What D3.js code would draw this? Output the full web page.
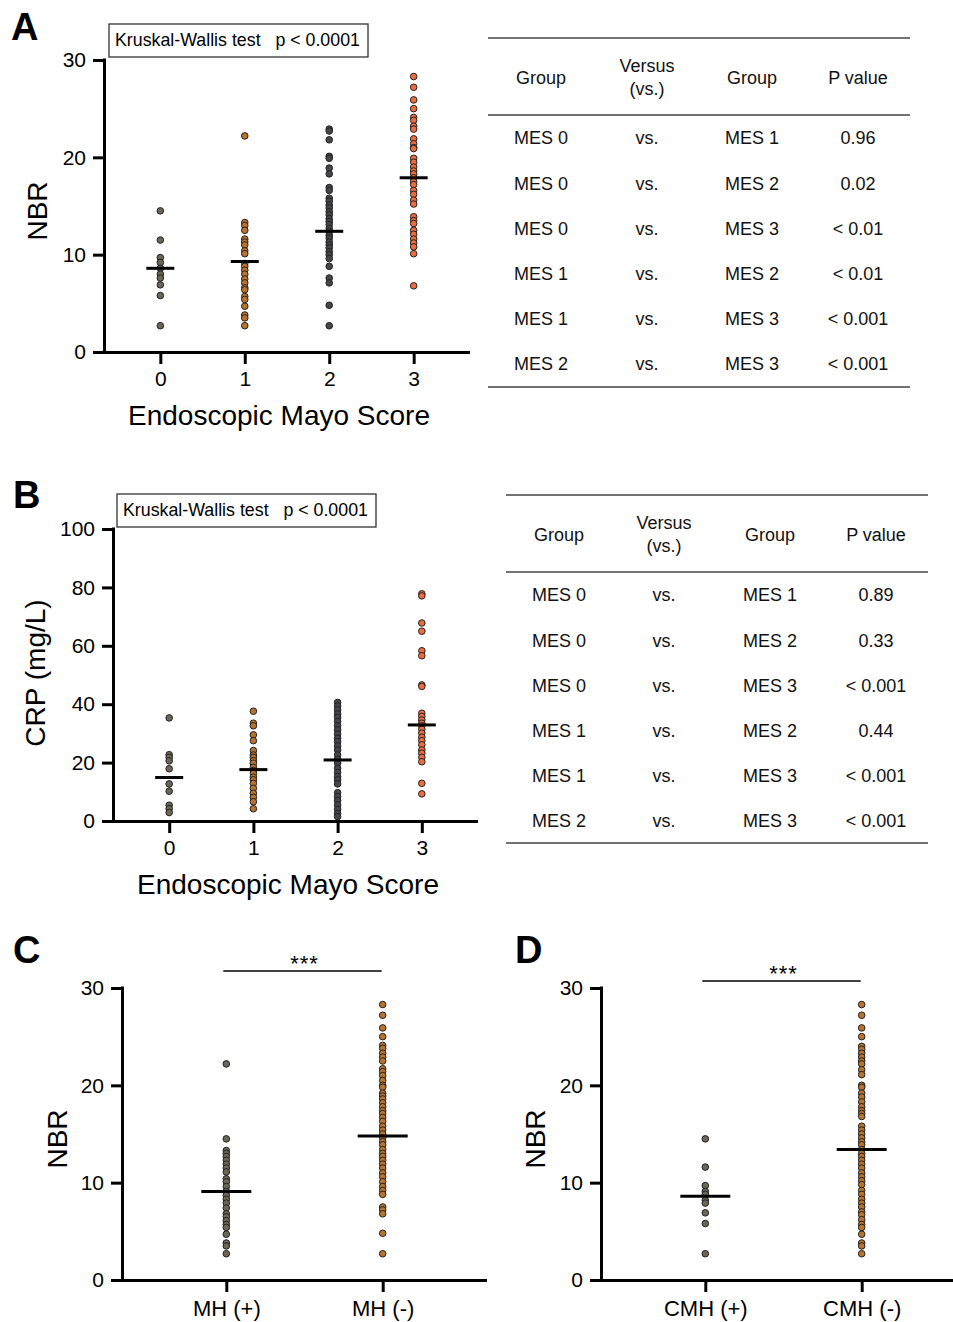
<!DOCTYPE html>
<html><head><meta charset="utf-8">
<script src="https://cdn.jsdelivr.net/npm/d3@7"></script>
<style>
body{margin:0;background:#fff;}
svg{display:block;font-family:"Liberation Sans",Arial,sans-serif;}
</style></head>
<body>
<svg id="chart" width="953" height="1322"></svg>
<script>
// ---------- DATA ----------
const mesCategories = ["0", "1", "2", "3"];
const nbrMes0 = [14.5, 11.5, 9.7, 9.2, 8.6, 8.0, 7.6, 6.9, 5.8, 2.7];
const nbrMes1 = [22.2, 13.3, 13.0, 12.5, 11.6, 11.3, 11.0, 10.4, 10.1, 9.1, 8.8, 8.4, 8.0, 7.5, 7.1, 6.6, 6.4, 5.7, 5.4, 4.7, 3.8, 3.5, 2.7];
const nbrMes2 = [22.9, 22.7, 21.8, 20.1, 19.9, 18.9, 18.3, 16.9, 16.6, 15.8, 15.5, 15.1, 14.8, 14.4, 14.1, 13.7, 13.4, 13.1, 12.7, 12.4, 12.0, 11.7, 11.3, 11.0, 10.7, 10.3, 10.0, 9.6, 8.8, 7.6, 7.1, 4.8, 2.7];
const nbrMes3 = [28.3, 27.2, 25.9, 25.0, 24.1, 23.8, 23.2, 22.9, 21.9, 21.4, 21.0, 20.9, 19.9, 19.5, 19.0, 18.6, 18.3, 17.9, 17.5, 17.2, 16.6, 16.2, 15.6, 15.2, 13.9, 13.5, 13.2, 12.5, 12.1, 11.6, 11.2, 10.8, 10.1, 6.8];
const nbrMedians = [8.6, 9.3, 12.4, 17.9];

const crpMes0 = [35.3, 22.7, 21.8, 20.6, 17.9, 12.7, 10.2, 5.4, 4.2, 2.9];
const crpMes1 = [37.6, 33.5, 32.6, 29.5, 27.5, 24.1, 22.6, 21.8, 20.7, 19.8, 18.4, 17.3, 16.3, 15.0, 14.1, 12.9, 11.2, 9.5, 8.1, 6.6, 4.2];
const crpMes2 = [40.6, 39.4, 38.1, 36.7, 35.5, 34.1, 32.6, 31.2, 29.8, 28.3, 27.2, 25.7, 24.3, 22.6, 21.1, 19.8, 18.1, 16.6, 15.2, 14.1, 12.7, 9.7, 8.3, 7.0, 5.5, 4.0, 2.6, 1.5];
const crpMes3 = [77.8, 77.1, 67.8, 65.0, 58.3, 56.6, 46.6, 46.1, 36.9, 35.8, 34.6, 33.5, 32.6, 31.4, 30.1, 28.7, 27.5, 26.1, 24.3, 23.2, 21.8, 20.3, 12.9, 9.3];
const crpMedians = [14.9, 17.6, 20.9, 32.9];

const mhCategories = ["MH (+)", "MH (-)"];
const mhPos = [22.2, 14.5, 13.3, 13.0, 12.7, 12.3, 11.9, 11.5, 11.1, 10.4, 10.1, 9.6, 9.1, 8.7, 8.3, 7.9, 7.4, 6.8, 6.5, 6.1, 5.7, 5.4, 4.7, 3.8, 3.5, 2.7];
const mhNeg = [28.3, 27.2, 25.9, 25.0, 24.1, 23.8, 23.3, 22.9, 22.5, 21.7, 21.4, 21.0, 20.5, 20.0, 19.8, 19.2, 18.9, 18.6, 18.2, 17.8, 17.4, 17.1, 16.7, 16.3, 15.8, 15.4, 15.0, 14.6, 14.2, 13.9, 13.4, 13.0, 12.7, 12.3, 11.9, 11.5, 11.0, 10.6, 10.1, 9.6, 9.2, 8.8, 7.5, 7.2, 6.8, 4.8, 2.7];
const mhMedians = [9.1, 14.8];

const cmhCategories = ["CMH (+)", "CMH (-)"];
const cmhPos = [14.5, 11.6, 9.7, 9.1, 8.8, 8.2, 7.9, 6.9, 5.8, 2.7];
const cmhNeg = [28.3, 27.2, 25.9, 25.0, 24.0, 23.7, 23.3, 22.9, 22.5, 22.2, 21.6, 21.1, 20.0, 19.8, 19.2, 18.8, 18.3, 17.8, 17.4, 17.1, 16.8, 15.8, 15.4, 15.0, 14.6, 14.2, 13.9, 13.4, 13.0, 12.7, 12.3, 11.9, 11.5, 11.0, 10.6, 10.2, 9.8, 9.2, 8.8, 8.3, 7.9, 7.5, 7.0, 6.7, 6.2, 5.7, 5.4, 4.7, 3.8, 3.5, 2.7];
const cmhMedians = [8.6, 13.4];

const nbrTicks = [0, 10, 20, 30];
const crpTicks = [0, 20, 40, 60, 80, 100];

const tableHeaders = ["Group", "Versus|(vs.)", "Group", "P value"];
const groupLeft = ["MES 0", "MES 0", "MES 0", "MES 1", "MES 1", "MES 2"];
const versusCol = ["vs.", "vs.", "vs.", "vs.", "vs.", "vs."];
const groupRight = ["MES 1", "MES 2", "MES 3", "MES 2", "MES 3", "MES 3"];
const pValuesNBR = ["0.96", "0.02", "< 0.01", "< 0.01", "< 0.001", "< 0.001"];
const pValuesCRP = ["0.89", "0.33", "< 0.001", "0.44", "< 0.001", "< 0.001"];

// ---------- STYLE ----------
const cGrayBrown = "#6d6656", cOrange = "#b8732e", cDark = "#46464a", cRed = "#ee6a3f";
const FONT = '"Liberation Sans",Arial,sans-serif';
const svg = d3.select("#chart");

function panel(opt) {
  const g = svg.append("g");
  const x = d3.scalePoint().domain(opt.cats).range([opt.x0, opt.x1]).padding(0.667);
  const y = d3.scaleLinear().domain(opt.yDomain).range([opt.yBottom, opt.yTop]);

  // y axis
  const ya = g.append("g").attr("transform", `translate(${opt.x0},0)`)
    .call(d3.axisLeft(y).tickValues(opt.ticks).tickSize(11).tickSizeOuter(0).tickPadding(7));
  ya.select(".domain").attr("stroke", "#000").attr("stroke-width", 3)
    .attr("d", `M0.5,${opt.yBottom + 1.5}V${opt.yTop - 1.5}`);
  ya.selectAll(".tick line").attr("stroke", "#000").attr("stroke-width", 3);
  ya.selectAll(".tick text").attr("font-size", 21).attr("fill", "#000").attr("font-family", FONT);

  // x axis
  const xa = g.append("g").attr("transform", `translate(0,${opt.yBottom})`)
    .call(d3.axisBottom(x).tickSize(12).tickSizeOuter(0).tickPadding(opt.xTickPad || 7));
  xa.select(".domain").attr("stroke", "#000").attr("stroke-width", 3)
    .attr("d", `M${opt.x0 - 1},0.5H${opt.x1}`);
  xa.selectAll(".tick line").attr("stroke", "#000").attr("stroke-width", 3);
  xa.selectAll(".tick text").attr("font-size", opt.xTickSize || 21).attr("fill", "#000").attr("font-family", FONT);

  // dots
  opt.series.forEach((vals, i) => {
    g.append("g").selectAll("circle").data(vals).join("circle")
      .attr("cx", x(opt.cats[i])).attr("cy", d => y(d)).attr("r", 3.3)
      .attr("fill", opt.colors[i]).attr("stroke", "#222").attr("stroke-width", 1);
  });
  // medians
  g.append("g").selectAll("line").data(opt.medians).join("line")
    .attr("x1", (d, i) => x(opt.cats[i]) - opt.medW).attr("x2", (d, i) => x(opt.cats[i]) + opt.medW)
    .attr("y1", d => y(d)).attr("y2", d => y(d))
    .attr("stroke", "#000").attr("stroke-width", 3);

  // y label
  g.append("text").attr("transform", `translate(${opt.yLabelX},${(opt.yTop + opt.yBottom) / 2 + (opt.yLabelDy || 0)}) rotate(-90)`)
    .attr("text-anchor", "middle").attr("dy", "0.35em").attr("font-size", 28).text(opt.yLabel);
  if (opt.xLabel) {
    g.append("text").attr("x", opt.xLabelX).attr("y", opt.xLabelY)
      .attr("text-anchor", "middle").attr("font-size", 28).text(opt.xLabel);
  }
  // panel letter
  g.append("text").attr("x", opt.letterX).attr("y", opt.letterY).attr("font-size", 38)
    .attr("font-weight", "bold").text(opt.letter);
  // KW box
  if (opt.kw) {
    g.append("rect").attr("x", opt.kw[0]).attr("y", opt.kw[1]).attr("width", 259).attr("height", 33)
      .attr("fill", "#fff").attr("stroke", "#333").attr("stroke-width", 1.3);
    g.append("text").attr("x", opt.kw[0] + 6).attr("y", opt.kw[1] + 22).attr("font-size", 17.8)
      .attr("xml:space", "preserve").text("Kruskal-Wallis test   p < 0.0001");
  }
  // significance bar
  if (opt.sig) {
    g.append("line").attr("x1", x(opt.cats[0]) - 3).attr("x2", x(opt.cats[1]) - 1)
      .attr("y1", opt.sig).attr("y2", opt.sig).attr("stroke", "#000").attr("stroke-width", 1.5);
    g.append("text").attr("x", (x(opt.cats[0]) + x(opt.cats[1])) / 2).attr("y", opt.sig)
      .attr("text-anchor", "middle").attr("font-size", 22).attr("letter-spacing", 1).text("***");
  }
}

function table(x0, x1, yTop, yHead, yBottom, cols, rowY0, rowStep, pvals) {
  const g = svg.append("g").attr("font-size", 18).attr("fill", "#111");
  [yTop, yHead, yBottom].forEach(yy => g.append("line").attr("x1", x0).attr("x2", x1)
    .attr("y1", yy).attr("y2", yy).attr("stroke", "#444").attr("stroke-width", 1.5));
  const headMid = (yTop + yHead) / 2 + 1;
  tableHeaders.forEach((h, i) => {
    const parts = h.split("|");
    parts.forEach((p, j) => {
      g.append("text").attr("x", cols[i]).attr("y", headMid + (j - (parts.length - 1) / 2) * 23)
        .attr("dy", "0.35em").attr("text-anchor", "middle").text(p);
    });
  });
  const columns = [groupLeft, versusCol, groupRight, pvals];
  columns.forEach((col, ci) => {
    g.append("g").selectAll("text").data(col).join("text")
      .attr("x", cols[ci]).attr("y", (d, ri) => rowY0 + ri * rowStep)
      .attr("dy", "0.35em").attr("text-anchor", "middle").text(d => d);
  });
}

// Panel A
panel({cats: mesCategories, x0: 104, x1: 470, yTop: 60, yBottom: 352, yDomain: [0, 30], ticks: nbrTicks,
  series: [nbrMes0, nbrMes1, nbrMes2, nbrMes3], colors: [cGrayBrown, cOrange, cDark, cRed], medians: nbrMedians,
  medW: 14, yLabel: "NBR", yLabelX: 37, yLabelDy: 5, xLabel: "Endoscopic Mayo Score", xLabelX: 279, xLabelY: 425,
  letter: "A", letterX: 11, letterY: 40, kw: [109, 24]});
table(488, 910, 38, 115, 387, [541, 647, 752, 858], 138, 45.2, pValuesNBR);

// Panel B
panel({cats: mesCategories, x0: 113, x1: 478, yTop: 529, yBottom: 821, yDomain: [0, 100], ticks: crpTicks,
  series: [crpMes0, crpMes1, crpMes2, crpMes3], colors: [cGrayBrown, cOrange, cDark, cRed], medians: crpMedians,
  medW: 14, yLabel: "CRP (mg/L)", yLabelX: 35, yLabelDy: -2, xLabel: "Endoscopic Mayo Score", xLabelX: 288, xLabelY: 894,
  letter: "B", letterX: 13, letterY: 508, kw: [117, 494]});
table(506, 928, 495, 572, 843, [559, 664, 770, 876], 595, 45.2, pValuesCRP);

// Panel C
panel({cats: mhCategories, x0: 122, x1: 487, yTop: 988, yBottom: 1280, yDomain: [0, 30], ticks: nbrTicks,
  series: [mhPos, mhNeg], colors: [cGrayBrown, cOrange], medians: mhMedians, xTickSize: 22, xTickPad: 8,
  medW: 25, yLabel: "NBR", yLabelX: 57, yLabelDy: 5, letter: "C", letterX: 13, letterY: 963, sig: 971});

// Panel D
panel({cats: cmhCategories, x0: 601, x1: 966, yTop: 988, yBottom: 1280, yDomain: [0, 30], ticks: nbrTicks,
  series: [cmhPos, cmhNeg], colors: [cGrayBrown, cOrange], medians: cmhMedians, xTickSize: 22, xTickPad: 8,
  medW: 25, yLabel: "NBR", yLabelX: 535, yLabelDy: 5, letter: "D", letterX: 515, letterY: 963, sig: 981});
</script>
</body></html>
